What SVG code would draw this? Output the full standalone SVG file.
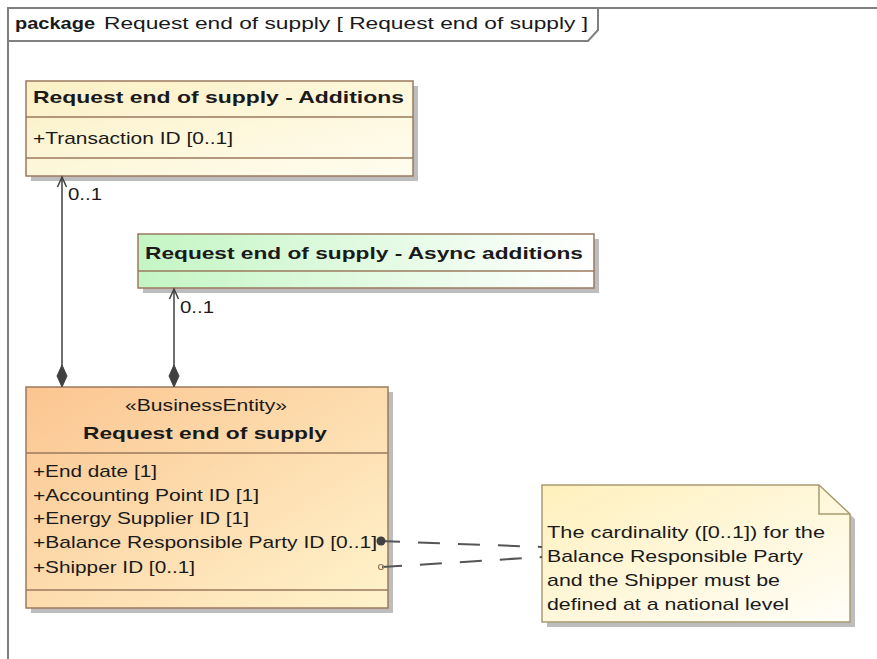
<svg xmlns="http://www.w3.org/2000/svg" width="877" height="659" viewBox="0 0 877 659">
<defs>
<style>
text{font-family:"Liberation Sans",Arial,sans-serif;font-size:17px;fill:#1a1a1a}
.b{font-weight:bold}
.box{stroke:#9a7a5e;stroke-width:1.5}
.div{stroke:#9a7a5e;stroke-width:1.5;fill:none}
.shadow{fill:#bdbdbd}
.frame{stroke:#808080;stroke-width:2;fill:none}
.conn{stroke:#404040;stroke-width:1.5;fill:none}
.dash{stroke:#555;stroke-width:2;fill:none;stroke-dasharray:22 18}
.mult{font-size:16px}
</style>
<linearGradient id="gAdd" x1="0" y1="0" x2="1" y2="1">
<stop offset="0" stop-color="#fbf0c4"/><stop offset="1" stop-color="#fffdf0"/>
</linearGradient>
<linearGradient id="gAsync" x1="0" y1="0" x2="1" y2="0">
<stop offset="0" stop-color="#c4f5c4"/><stop offset="1" stop-color="#ffffff"/>
</linearGradient>
<linearGradient id="gMain" x1="0" y1="0" x2="1" y2="1">
<stop offset="0" stop-color="#fbc590"/><stop offset="1" stop-color="#fff3cc"/>
</linearGradient>
<linearGradient id="gNote" x1="0" y1="0" x2="1" y2="1">
<stop offset="0" stop-color="#fff0bc"/><stop offset="1" stop-color="#fffef8"/>
</linearGradient>
</defs>
<rect width="877" height="659" fill="#ffffff"/>

<g id="frame">
<path class="frame" d="M8,659 V8 H877"/>
<path class="frame" d="M8,41 H588 L598,30 V8"/>
<text x="15" y="29" class="b" textLength="80" lengthAdjust="spacingAndGlyphs">package</text>
<text x="104" y="29" textLength="484" lengthAdjust="spacingAndGlyphs">Request end of supply [ Request end of supply ]</text>
</g>

<g id="additions">
<rect class="shadow" x="31" y="86" width="387" height="95"/>
<rect class="box" x="26" y="81" width="387" height="95" fill="url(#gAdd)"/>
<path class="div" d="M26,117 H413 M26,158 H413"/>
<text x="33" y="103" class="b" textLength="371" lengthAdjust="spacingAndGlyphs">Request end of supply - Additions</text>
<text x="33" y="144" textLength="200" lengthAdjust="spacingAndGlyphs">+Transaction ID [0..1]</text>
</g>

<g id="async">
<rect class="shadow" x="143" y="239" width="456" height="54"/>
<rect class="box" x="138" y="234" width="456" height="54" fill="url(#gAsync)"/>
<path class="div" d="M138,271 H594"/>
<text x="145" y="259" class="b" textLength="438" lengthAdjust="spacingAndGlyphs">Request end of supply - Async additions</text>
</g>

<g id="main">
<rect class="shadow" x="31" y="392" width="362" height="221"/>
<rect class="box" x="26" y="387" width="362" height="221" fill="url(#gMain)"/>
<path class="div" d="M26,453 H388 M26,590 H388"/>
<text x="206" y="411" text-anchor="middle" textLength="162" lengthAdjust="spacingAndGlyphs">«BusinessEntity»</text>
<text x="205" y="439" text-anchor="middle" class="b" textLength="244" lengthAdjust="spacingAndGlyphs">Request end of supply</text>
<text x="33" y="477" textLength="124" lengthAdjust="spacingAndGlyphs">+End date [1]</text>
<text x="33" y="501" textLength="226" lengthAdjust="spacingAndGlyphs">+Accounting Point ID [1]</text>
<text x="33" y="524" textLength="216" lengthAdjust="spacingAndGlyphs">+Energy Supplier ID [1]</text>
<text x="33" y="548" textLength="344" lengthAdjust="spacingAndGlyphs">+Balance Responsible Party ID [0..1]</text>
<text x="33" y="573" textLength="162" lengthAdjust="spacingAndGlyphs">+Shipper ID [0..1]</text>
</g>

<g id="note">
<path class="shadow" d="M547,490 H824 L855,519 V627 H547 Z"/>
<path d="M542,485 H819 L850,514 V622 H542 Z" fill="url(#gNote)" stroke="#a89c70" stroke-width="1.5"/>
<path d="M819,485 V514 H850" fill="none" stroke="#a89c70" stroke-width="1.5"/>
<text x="547" y="538" textLength="278" lengthAdjust="spacingAndGlyphs">The cardinality ([0..1]) for the</text>
<text x="547" y="562" textLength="256" lengthAdjust="spacingAndGlyphs">Balance Responsible Party</text>
<text x="547" y="586" textLength="233" lengthAdjust="spacingAndGlyphs">and the Shipper must be</text>
<text x="547" y="610" textLength="242" lengthAdjust="spacingAndGlyphs">defined at a national level</text>
</g>

<g id="connectors">
<line class="conn" x1="62" y1="177" x2="62" y2="366"/>
<polyline class="conn" points="57.5,187 62,177 66.5,187"/>
<polygon points="62,365 67,376 62,387 57,376" fill="#404040" stroke="#404040"/>
<text x="68" y="200" class="mult" textLength="34" lengthAdjust="spacingAndGlyphs">0..1</text>

<line class="conn" x1="174" y1="289" x2="174" y2="366"/>
<polyline class="conn" points="169.5,299 174,289 178.5,299"/>
<polygon points="174,365 179,376 174,387 169,376" fill="#404040" stroke="#404040"/>
<text x="180" y="313" class="mult" textLength="34" lengthAdjust="spacingAndGlyphs">0..1</text>

<line class="dash" x1="380" y1="541" x2="542" y2="547" stroke-dashoffset="2"/>
<circle cx="381" cy="541" r="4.5" fill="#404040"/>
<line class="dash" x1="382" y1="567" x2="542" y2="557" stroke-dashoffset="2"/>
<circle cx="381" cy="567" r="2.5" fill="none" stroke="#9a7a5e" stroke-width="1.2"/>
</g>
</svg>
